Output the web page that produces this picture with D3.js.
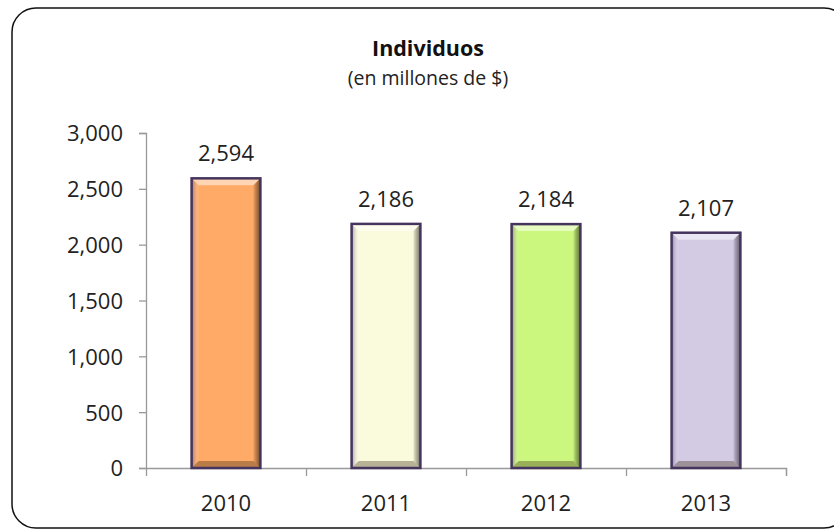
<!DOCTYPE html>
<html>
<head>
<meta charset="utf-8">
<script src="https://cdn.jsdelivr.net/npm/d3@7"></script>
<style>
  body { margin: 0; background: #fff; }
  svg { display: block; font-family: "Open Sans", sans-serif; }
</style>
</head>
<body>
<div id="chart"></div>
<script>
var years = ["2010", "2011", "2012", "2013"];
var values = [2594, 2186, 2184, 2107];
var barColors = ["#ffaa66", "#fafadc", "#ccf77f", "#d3cae4"];
var yTicks = [0, 500, 1000, 1500, 2000, 2500, 3000];

var width = 834, height = 529;
var margin = {top: 133, right: 48, bottom: 61, left: 146};

var svg = d3.select("#chart").append("svg")
    .attr("width", width).attr("height", height);

// frame, right and bottom edges run past the picture
svg.append("rect")
    .attr("x", 12).attr("y", 8)
    .attr("width", 836).attr("height", 520)
    .attr("rx", 24).attr("ry", 24)
    .style("fill", "#fff")
    .style("stroke", "#111")
    .style("stroke-width", 1.5);

svg.append("text")
    .attr("x", 428).attr("y", 56)
    .attr("text-anchor", "middle")
    .style("font-size", "21.5px").style("font-weight", "bold").style("fill", "#111")
    .text("Individuos");

svg.append("text")
    .attr("x", 428).attr("y", 85)
    .attr("text-anchor", "middle")
    .style("font-size", "19.5px").style("fill", "#222")
    .text("(en millones de $)");

var x = d3.scaleBand()
    .domain(years)
    .range([margin.left, width - margin.right])
    .paddingInner(0.57).paddingOuter(0.285);

var y = d3.scaleLinear()
    .domain([0, 3000])
    .range([height - margin.bottom, margin.top]);

// axes
var yAxis = svg.append("g")
    .attr("transform", "translate(" + margin.left + ",0)")
    .call(d3.axisLeft(y).tickValues(yTicks).tickSize(7).tickPadding(16)
        .tickFormat(d3.format(",")));
yAxis.attr("font-family", null);

var xTickScale = d3.scalePoint().domain(d3.range(years.length + 1))
    .range([margin.left, width - margin.right]);
var xAxis = svg.append("g")
    .attr("transform", "translate(0," + y(0) + ")")
    .call(d3.axisBottom(xTickScale).tickSize(8).tickFormat(""));
xAxis.selectAll(".tick").filter(function(d){ return d === 0; }).remove();

svg.selectAll(".domain").style("stroke", "#999").style("stroke-width", 1.3);
svg.selectAll(".tick line").style("stroke", "#999").style("stroke-width", 1.3);
yAxis.selectAll("text")
    .style("font-family", "'Open Sans', sans-serif")
    .style("font-size", "22px").style("fill", "#222")
    .attr("dy", "0.36em");

svg.append("g").selectAll("text")
    .data(years)
    .enter().append("text")
    .attr("x", function(d){ return x(d) + x.bandwidth() / 2; })
    .attr("y", 511)
    .attr("text-anchor", "middle")
    .style("font-size", "22px").style("fill", "#222")
    .text(function(d){ return d; });

// gradients for the bevel sides
var defs = svg.append("defs");
var gr = defs.append("linearGradient").attr("id", "rightShade")
    .attr("x1", "0").attr("x2", "1").attr("y1", "0").attr("y2", "0");
gr.append("stop").attr("offset", "0").attr("stop-color", "#000").attr("stop-opacity", 0.08);
gr.append("stop").attr("offset", "1").attr("stop-color", "#000").attr("stop-opacity", 0.55);
var gl = defs.append("linearGradient").attr("id", "leftShade")
    .attr("x1", "0").attr("x2", "1").attr("y1", "0").attr("y2", "0");
gl.append("stop").attr("offset", "0").attr("stop-color", "#3a2a55").attr("stop-opacity", 0.45);
gl.append("stop").attr("offset", "1").attr("stop-color", "#fff").attr("stop-opacity", 0.1);

var bev = 7;
var bars = svg.append("g").selectAll("g")
    .data(years)
    .enter().append("g");

bars.append("rect")
    .attr("x", function(d){ return x(d); })
    .attr("y", function(d, i){ return y(values[i]); })
    .attr("width", x.bandwidth())
    .attr("height", function(d, i){ return y(0) - y(values[i]); })
    .style("fill", function(d, i){ return barColors[i]; });

function pts(d, i, side) {
    var x0 = x(d), x1 = x(d) + x.bandwidth(), y0 = y(values[i]), y1 = y(0), b = bev;
    var p;
    if (side === "top") p = [[x0, y0], [x1, y0], [x1 - b, y0 + b], [x0 + b, y0 + b]];
    if (side === "left") p = [[x0, y0], [x0 + b, y0 + b], [x0 + b, y1 - b], [x0, y1]];
    if (side === "right") p = [[x1, y0], [x1, y1], [x1 - b, y1 - b], [x1 - b, y0 + b]];
    if (side === "bottom") p = [[x0, y1], [x0 + b, y1 - b], [x1 - b, y1 - b], [x1, y1]];
    return p.map(function(q){ return q.join(","); }).join(" ");
}

bars.append("polygon")
    .attr("points", function(d, i){ return pts(d, i, "top"); })
    .style("fill", "#fff").style("opacity", 0.5);
bars.append("polygon")
    .attr("points", function(d, i){ return pts(d, i, "left"); })
    .style("fill", "url(#leftShade)");
bars.append("polygon")
    .attr("points", function(d, i){ return pts(d, i, "right"); })
    .style("fill", "url(#rightShade)");
bars.append("polygon")
    .attr("points", function(d, i){ return pts(d, i, "bottom"); })
    .style("fill", "#3a2a10").style("opacity", 0.35);

bars.append("rect")
    .attr("x", function(d){ return x(d); })
    .attr("y", function(d, i){ return y(values[i]); })
    .attr("width", x.bandwidth())
    .attr("height", function(d, i){ return y(0) - y(values[i]); })
    .style("fill", "none")
    .style("stroke", "#45355e")
    .style("stroke-width", 2.5);

bars.append("text")
    .attr("x", function(d){ return x(d) + x.bandwidth() / 2; })
    .attr("y", function(d, i){ return y(values[i]) - 17; })
    .attr("text-anchor", "middle")
    .style("font-size", "22px").style("fill", "#222")
    .text(function(d, i){ return d3.format(",")(values[i]); });
</script>
</body>
</html>
